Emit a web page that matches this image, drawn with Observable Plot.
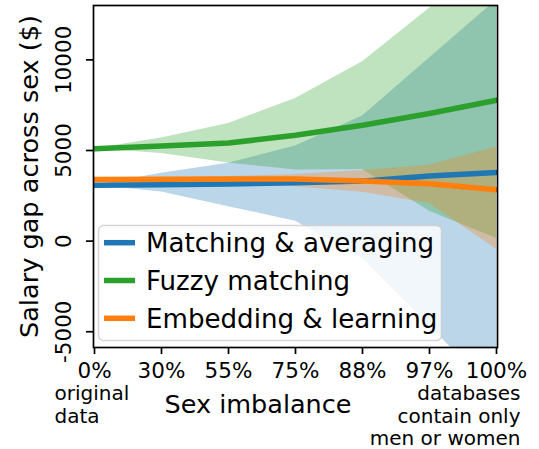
<!DOCTYPE html>
<html><head><meta charset="utf-8">
<script src="https://cdn.jsdelivr.net/npm/d3@7"></script>
<script src="https://cdn.jsdelivr.net/npm/@observablehq/plot@0.6"></script>
<style>
body{margin:0;background:#fff;}
#wrap{position:relative;width:539px;height:449px;font-family:"DejaVu Sans",sans-serif;}
#wrap svg{display:block;}
#legend{position:absolute;left:0;top:0;pointer-events:none;}
</style></head><body><div id="wrap"></div>
<script>
// Data
const categories = ["0%", "30%", "55%", "75%", "88%", "97%", "100%"];
const yTicks = [-5000, 0, 5000, 10000];

const seriesNames = ["Matching & averaging", "Fuzzy matching", "Embedding & learning"];
const seriesColors = ["#1f77b4", "#2ca02c", "#ff7f0e"];

const matchingMean = [3080, 3110, 3150, 3220, 3310, 3590, 3780];
const matchingLow  = [3080, 2710, 1900, 1100, -950, -4650, -8500];
const matchingHigh = [3080, 3750, 4300, 5250, 6900, 10100, 13300];

const fuzzyMean = [5100, 5250, 5410, 5840, 6390, 7040, 7770];
const fuzzyLow  = [5100, 4830, 4310, 3920, 3950, 1650, 150];
const fuzzyHigh = [5100, 5690, 6490, 7870, 9900, 12850, 15600];

const embeddingMean = [3400, 3410, 3430, 3430, 3315, 3170, 2840];
const embeddingLow  = [3380, 3330, 3250, 3000, 2700, 2080, -450];
const embeddingHigh = [3400, 3450, 3560, 3680, 3900, 4180, 5190];

const leftNote = "original\ndata";
const rightNote = "databases\ncontain only\nmen or women";

// Build table
const means = [matchingMean, fuzzyMean, embeddingMean];
const lows = [matchingLow, fuzzyLow, embeddingLow];
const highs = [matchingHigh, fuzzyHigh, embeddingHigh];
const rows = [];
seriesNames.forEach((s, i) => categories.forEach((c, j) => rows.push({series: s, cat: c, mean: means[i][j], lo: lows[i][j], hi: highs[i][j]})));

const font = "DejaVu Sans";
const plot = Plot.plot({
  width: 539, height: 449,
  marginLeft: 93, marginRight: 42, marginTop: 5, marginBottom: 102,
  style: {fontFamily: font, background: "white", color: "black", overflow: "visible"},
  x: {type: "point", domain: categories, padding: 0},
  y: {domain: [-5870, 13000]},
  color: {domain: seriesNames, range: seriesColors},
  marks: [
    ...seriesNames.map((s) => Plot.areaY(rows.filter(r => r.series === s), {x: "cat", y1: "lo", y2: "hi", fill: "series", fillOpacity: 0.3, clip: true})),
    ...seriesNames.map((s) => Plot.line(rows.filter(r => r.series === s), {x: "cat", y: "mean", stroke: "series", strokeWidth: 5.5, clip: true})),
    Plot.frame({stroke: "black", strokeWidth: 1.7}),
    Plot.axisX({tickSize: 7, tickPadding: 8, fontSize: 21.5, strokeWidth: 1.7, label: null}),
    Plot.axisY(yTicks, {tickSize: 7, strokeWidth: 1.7, tickFormat: () => "", label: null}),
    Plot.text(yTicks, {y: d => d, text: d => String(d), frameAnchor: "left", dx: -29.5, rotate: -90, fontSize: 21.5, textAnchor: "middle", lineAnchor: "middle"}),
    Plot.text(["Salary gap across sex ($)"], {frameAnchor: "left", dx: -55.5, rotate: -90, fontSize: 25.6, textAnchor: "middle", lineAnchor: "bottom"}),
    Plot.text(["Sex imbalance"], {frameAnchor: "bottom", dx: -37.5, dy: 65, fontSize: 25.5, textAnchor: "middle", lineAnchor: "bottom"}),
    Plot.text([leftNote], {x: () => categories[0], frameAnchor: "bottom", dx: -40, dy: 35.5, fontSize: 20, textAnchor: "start", lineAnchor: "top", lineHeight: 1.165}),
    Plot.text([rightNote], {x: () => categories[categories.length - 1], frameAnchor: "bottom", dx: 24, dy: 37, fontSize: 20, textAnchor: "end", lineAnchor: "top", lineHeight: 1.125})
  ]
});
const wrap = document.getElementById("wrap");
wrap.appendChild(plot);

// Legend overlay (inside the plot frame, lower left)
const ns = "http://www.w3.org/2000/svg";
const lg = document.createElementNS(ns, "svg");
lg.setAttribute("id", "legend");
lg.setAttribute("width", 539); lg.setAttribute("height", 449);
const box = document.createElementNS(ns, "rect");
Object.entries({x: 98.5, y: 225.5, width: 343, height: 115, rx: 5, fill: "white", "fill-opacity": 0.8, stroke: "#cccccc", "stroke-opacity": 0.8, "stroke-width": 1.5}).forEach(([k, v]) => box.setAttribute(k, v));
lg.appendChild(box);
seriesNames.forEach((s, i) => {
  const cy = 242.7 + i * 37.8;
  const ln = document.createElementNS(ns, "line");
  Object.entries({x1: 104, x2: 135, y1: cy, y2: cy, stroke: seriesColors[i], "stroke-width": 5.5}).forEach(([k, v]) => ln.setAttribute(k, v));
  lg.appendChild(ln);
  const t = document.createElementNS(ns, "text");
  Object.entries({x: 146, y: cy + 9.5, "font-size": 26.1, "font-family": font, fill: "black"}).forEach(([k, v]) => t.setAttribute(k, v));
  t.textContent = s;
  lg.appendChild(t);
});
wrap.appendChild(lg);
</script></body></html>
